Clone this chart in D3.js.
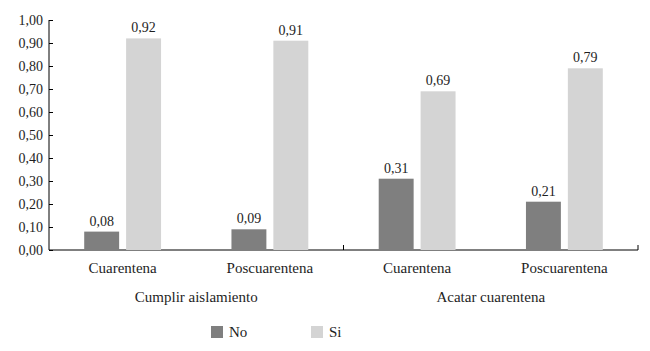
<!DOCTYPE html>
<html>
<head>
<meta charset="utf-8">
<script src="https://cdn.jsdelivr.net/npm/d3@7"></script>
<style>
  body { margin: 0; background: #fff; }
</style>
</head>
<body>
<svg id="chart"></svg>
<script>
// data
const groups = ["Cumplir aislamiento", "Acatar cuarentena"];
const categories = ["Cuarentena", "Poscuarentena", "Cuarentena ", "Poscuarentena "];
const series = ["No", "Si"];
const noValues = [0.08, 0.09, 0.31, 0.21];
const siValues = [0.92, 0.91, 0.69, 0.79];
const yTicks = [0, 0.1, 0.2, 0.3, 0.4, 0.5, 0.6, 0.7, 0.8, 0.9, 1.0];
const colors = ["#7f7f7f", "#d4d4d4"];

const width = 650, height = 351;
const margin = { top: 20, right: 12, bottom: 101, left: 49 };
const serif = "Liberation Serif";
const ink = "#1e1e1e";

const svg = d3.select("#chart")
  .attr("width", width)
  .attr("height", height)
  .style("font-family", serif);

const fmt = v => d3.format(".2f")(v).replace(".", ",");

const x0 = d3.scaleBand()
  .domain(categories)
  .range([margin.left, width - margin.right])
  .padding(0);

const xG = d3.scaleBand()
  .domain(groups)
  .range([margin.left, width - margin.right])
  .padding(0);

const x1 = d3.scaleBand()
  .domain(series)
  .range([0, x0.bandwidth()])
  .paddingInner(0.1667)
  .paddingOuter(0.84);

const y = d3.scaleLinear()
  .domain([0, 1])
  .range([height - margin.bottom, margin.top]);

// y axis, ticks point inward
const yAxis = d3.axisLeft(y)
  .tickValues(yTicks)
  .tickFormat(fmt)
  .tickSize(-4)
  .tickPadding(6);

const yAxisGroup = svg.append("g")
  .attr("transform", `translate(${margin.left},0)`)
  .call(yAxis)
  .attr("font-family", null)
  .attr("font-size", 14);
yAxisGroup.select(".domain").attr("d", `M0,${y(1)}V${y(0)}`);
yAxisGroup.selectAll("text").attr("fill", ink).style("font-family", serif);

// x axis with ticks at group edges
const edges = groups.map(g => xG(g) + xG.bandwidth());
const xAxisGroup = svg.append("g")
  .attr("transform", `translate(0,${y(0)})`);
xAxisGroup.append("path")
  .attr("d", `M${x0.range()[0]},0H${x0.range()[1]}`)
  .attr("stroke", "#000")
  .attr("fill", "none");
xAxisGroup.selectAll(".edge")
  .data(edges)
  .enter().append("line")
  .attr("class", "edge")
  .attr("x1", d => d).attr("x2", d => d)
  .attr("y1", 0).attr("y2", -5)
  .attr("stroke", "#000");

// bars
const rows = categories.map((c, i) => ({ cat: c, values: [noValues[i], siValues[i]] }));

const catG = svg.selectAll(".cat")
  .data(rows)
  .enter().append("g")
  .attr("class", "cat")
  .attr("transform", d => `translate(${x0(d.cat)},0)`);

catG.selectAll("rect")
  .data(d => d.values.map((v, i) => ({ key: series[i], value: v, i })))
  .enter().append("rect")
  .attr("x", d => x1(d.key))
  .attr("y", d => y(d.value))
  .attr("width", x1.bandwidth())
  .attr("height", d => y(0) - y(d.value))
  .attr("fill", d => colors[d.i]);

catG.selectAll(".val")
  .data(d => d.values.map((v, i) => ({ key: series[i], value: v })))
  .enter().append("text")
  .attr("class", "val")
  .attr("x", d => x1(d.key) + x1.bandwidth() / 2)
  .attr("y", d => y(d.value) - 6)
  .attr("text-anchor", "middle")
  .attr("font-size", 14)
  .attr("fill", ink)
  .text(d => fmt(d.value));

// category labels
catG.append("text")
  .attr("x", x0.bandwidth() / 2)
  .attr("y", y(0) + 23)
  .attr("text-anchor", "middle")
  .attr("font-size", 15)
  .attr("fill", ink)
  .text(d => d.cat.trim());

// group labels
svg.selectAll(".grp")
  .data(groups)
  .enter().append("text")
  .attr("class", "grp")
  .attr("x", d => xG(d) + xG.bandwidth() / 2)
  .attr("y", y(0) + 52)
  .attr("text-anchor", "middle")
  .attr("font-size", 15)
  .attr("fill", ink)
  .text(d => d);

// legend
const legend = svg.append("g")
  .attr("transform", "translate(211,326)");
const legendItems = legend.selectAll(".legend-item")
  .data(series)
  .enter().append("g")
  .attr("class", "legend-item")
  .attr("transform", (d, i) => `translate(${i * 100},0)`);
legendItems.append("rect")
  .attr("width", 12)
  .attr("height", 12)
  .attr("fill", (d, i) => colors[i]);
legendItems.append("text")
  .attr("x", 18)
  .attr("y", 11)
  .attr("font-size", 15)
  .attr("fill", ink)
  .text(d => d);
</script>
</body>
</html>
